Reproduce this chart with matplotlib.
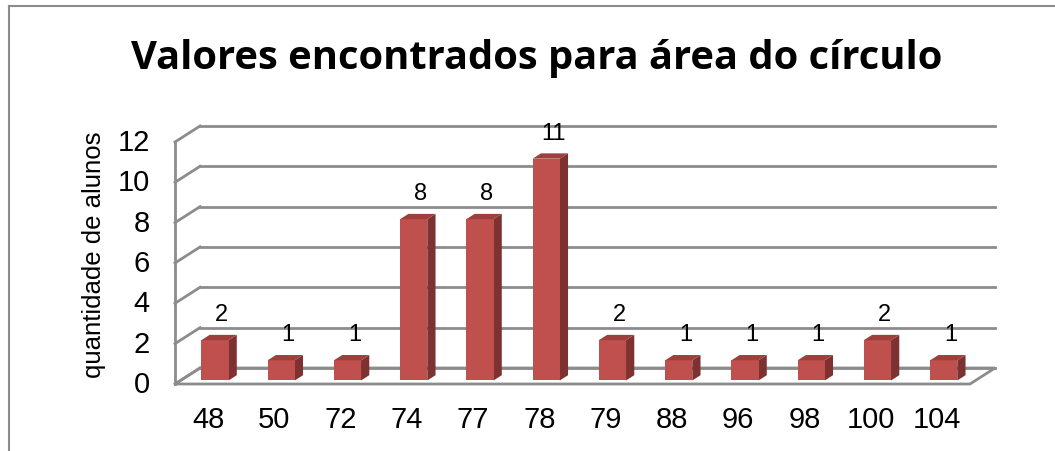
import matplotlib.pyplot as plt
from matplotlib.patches import Polygon, Rectangle

# data
categorias = ["48", "50", "72", "74", "77", "78", "79", "88", "96", "98", "100", "104"]
alunos = [2, 1, 1, 8, 8, 11, 2, 1, 1, 1, 2, 1]
yticks = [0, 2, 4, 6, 8, 10, 12]

W, H = 1055, 452
fig = plt.figure(figsize=(W / 100, H / 100), dpi=100)

# front plane in pixels: x 0..12 -> 175..970, y 0..12 -> 385..143
px_x0, px_x1 = 175, 970
px_y0, px_y1 = 385, 143
sx = (px_x1 - px_x0) / 12.0
sy = (px_y0 - px_y1) / 12.0
ax_l, ax_r, ax_t, ax_b = 150, 1010, 110, 395
ax = fig.add_axes([ax_l / W, 1 - ax_b / H, (ax_r - ax_l) / W, (ax_b - ax_t) / H])
ax.set_xlim((ax_l - px_x0) / sx, (ax_r - px_x0) / sx)
ax.set_ylim((px_y0 - ax_b) / sy, (px_y0 - ax_t) / sy)
ax.axis("off")

# depth offset (full depth) in data units
DX = 25 / sx
DY = 16 / sy
grid = "#8c8c8c"
n = len(categorias)


def proj(x, y, z):
    return (x + z * DX, y + z * DY)


# floor
ax.add_patch(Polygon([proj(0, 0, 0), proj(n, 0, 0), proj(n, 0, 1), proj(0, 0, 1)],
                     closed=True, facecolor="white", edgecolor=grid, lw=2, zorder=1))
# back wall gridlines + side wall lines
for t in yticks:
    a, b = proj(0, t, 1), proj(n, t, 1)
    ax.plot([a[0], b[0]], [a[1], b[1]], color=grid, lw=2, zorder=1)
    c = proj(0, t, 0)
    ax.plot([c[0], a[0]], [c[1], a[1]], color=grid, lw=2, zorder=1)
# front vertical axis
ax.plot([0, 0], [0, 12], color=grid, lw=2, zorder=2)

# bars
z0, z1 = 0.22, 0.55
bw = 0.41
for i, v in enumerate(alunos):
    xl = i + 0.5 - bw / 2 + 0.02
    xr = xl + bw
    f0 = proj(xl, 0, z0)
    ax.add_patch(Rectangle(f0, bw, v, facecolor="#c0504d", edgecolor="none", zorder=4))
    side = [proj(xr, 0, z0), proj(xr, v, z0), proj(xr, v, z1), proj(xr, 0, z1)]
    ax.add_patch(Polygon(side, closed=True, facecolor="#7d3231", edgecolor="none", zorder=3))
    top = [proj(xl, v, z0), proj(xr, v, z0), proj(xr, v, z1), proj(xl, v, z1)]
    ax.add_patch(Polygon(top, closed=True, facecolor="#9e3f3c", edgecolor="none", zorder=4))
    lx, ly = proj(i + 0.5, v, z1)
    ax.annotate(str(v), (lx, ly), xytext=(0, 7), textcoords="offset points",
                ha="center", va="bottom", fontsize=17, family="Liberation Sans", zorder=5)

# tick labels
for t in yticks:
    ax.text(-0.38, t, str(t), ha="right", va="center", fontsize=21,
            family="Liberation Sans")
for i, c in enumerate(categorias):
    ax.text(i + 0.5, -1.75, c, ha="center", va="center", fontsize=21,
            family="Liberation Sans", clip_on=False)

fig.text(94 / W, 1 - 255 / H, "quantidade de alunos", rotation=90, ha="center",
         va="center", fontsize=18.5, family="Liberation Sans")
fig.text(537 / W, 1 - 58 / H, "Valores encontrados para área do círculo",
         ha="center", va="center", fontsize=28.7, fontweight="bold", family="Open Sans")

# chart frame
fig.add_artist(plt.Line2D([9 / W, 9 / W], [0, 1 - 7 / H], color="#8c8c8c", lw=1.5))
fig.add_artist(plt.Line2D([9 / W, 1], [1 - 7 / H, 1 - 7 / H], color="#8c8c8c", lw=1.5))

fig.savefig("out.png", dpi=100)
